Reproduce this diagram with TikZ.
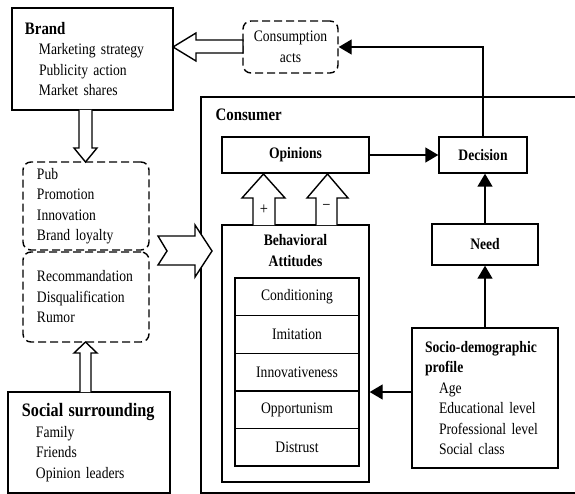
\documentclass[tikz,border=0pt]{standalone}
\usepackage{fontspec}
\setmainfont{Liberation Serif}[FakeStretch=0.85]
\usetikzlibrary{arrows.meta,calc}

\newcommand{\itm}{\hspace*{14bp}}

\begin{document}
\begin{tikzpicture}[x=1bp,y=-1bp,line width=1.4bp,
  box/.style={draw,rectangle,inner sep=0pt,font=\fontsize{16bp}{20.5bp}\selectfont},
  listbox/.style={box,align=left,inner xsep=13bp},
  cloud/.style={box,dash pattern=on 8bp off 4bp,rounded corners=8bp},
  fat/.style={draw,fill=white,line join=miter},
  link/.style={-{Triangle[length=13bp,width=15bp]}},
  bold/.style={font=\fontsize{16bp}{21bp}\selectfont\bfseries}]
\useasboundingbox (0,0) rectangle (575,494);

% outside the consumer
\node[listbox,text width=135bp,minimum height=102bp] (brand) at (92.5,59)
  {{\fontsize{17.5bp}{20.5bp}\selectfont\bfseries Brand}\\
   \itm Marketing strategy\\ \itm Publicity action\\ \itm Market shares};
\node[cloud,align=center,minimum width=95bp,minimum height=52bp] (acts) at (290.5,47)
  {Consumption\\acts};
\node[cloud,align=left,inner xsep=14bp,text width=98bp,minimum height=88bp] (media) at (86,206)
  {Pub\\Promotion\\Innovation\\Brand loyalty};
\node[cloud,align=left,inner xsep=14bp,text width=98bp,minimum height=90bp] (word) at (86,297)
  {Recommandation\\Disqualification\\Rumor};
\node[listbox,inner xsep=14bp,text width=134bp,minimum height=101bp] (social) at (89,442.5)
  {{\fontsize{19bp}{21bp}\selectfont\bfseries Social surrounding}\\
   \itm Family\\ \itm Friends\\ \itm Opinion leaders};

% consumer frame
\draw (590,97) -- (201,97) -- (201,493) -- (590,493);
\node[font=\fontsize{17.5bp}{21bp}\selectfont\bfseries,anchor=west,inner sep=0pt] (consumer) at (215,115) {Consumer};

\node[box,bold,minimum width=147bp,minimum height=36bp] (opin) at (295.5,155) {Opinions};
\node[box,bold,minimum width=88bp,minimum height=36bp] (dec) at (483,155) {Decision};
\node[box,bold,minimum width=106bp,minimum height=41bp] (need) at (485,244.5) {Need};

\node[box,minimum width=147bp,minimum height=257bp] (behav) at (295.5,353.5) {};
\node[bold,align=center,inner sep=0pt] (behavtitle) at (295.5,251) {Behavioral\\Attitudes};
\node[box,minimum width=124bp,minimum height=37.6bp] (cond) at (297,296.8) {Conditioning};
\node[box,minimum width=124bp,minimum height=37.6bp] (imit) at (297,334.4) {Imitation};
\node[box,minimum width=124bp,minimum height=37.6bp] (innov) at (297,372) {Innovativeness};
\node[box,minimum width=124bp,minimum height=37.6bp] (oppor) at (297,409.6) {Opportunism};
\node[box,minimum width=124bp,minimum height=37.6bp] (distr) at (297,447.2) {Distrust};

\node[listbox,text width=120bp,minimum height=140bp] (socio) at (485,398)
  {{\bfseries Socio-demographic\\profile}\\
   \itm Age\\ \itm Educational level\\ \itm Professional level\\ \itm Social class};

% thin links
\draw[link] (opin) -- (dec);
\draw[link] (need.north) -- (need.north |- dec.south);
\draw[link] (dec.north) |- (acts.east);
\draw[link] (socio) -- (need);
\coordinate (sd) at ([yshift=6bp]socio.west);
\draw[link] (sd) -- (sd -| behav.east);

% hollow arrows
\draw[fat] (243,40) -- (196,40) -- (196,33) -- (173,47) -- (196,61) -- (196,53) -- (243,53) -- cycle;
\draw[fat] (79,110) -- (79,148) -- (74,148) -- (85.5,162) -- (97,148) -- (92,148) -- (92,110);
\draw[fat] (80,392) -- (80,353) -- (74,353) -- (85.5,342) -- (97,353) -- (91,353) -- (91,392);
\draw[fat] (158,236) -- (195,236) -- (195,225) -- (212,251) -- (195,277) -- (195,265) -- (158,265) -- (167,251) -- cycle;
\draw[fat] (253,225) -- (253,198) -- (242,198) -- (263.5,174) -- (285,198) -- (275,198) -- (275,225);
\draw[fat] (316,225) -- (316,198) -- (307,198) -- (327.5,174) -- (348,198) -- (337,198) -- (337,225);
\node[font=\fontsize{17bp}{17bp}\selectfont,inner sep=0pt] (plus) at (264,210) {+};
\node[font=\fontsize{17bp}{17bp}\selectfont,inner sep=0pt] (minus) at (326.5,207) {−};
\end{tikzpicture}
\end{document}
